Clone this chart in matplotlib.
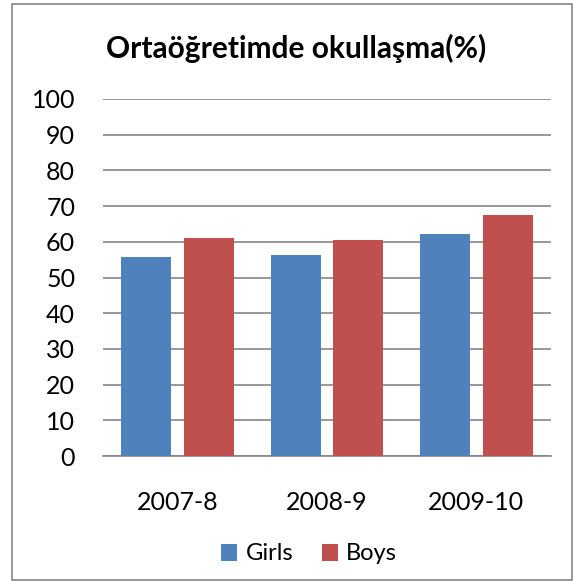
import matplotlib
matplotlib.use("Agg")
import matplotlib.pyplot as plt
import numpy as np
from matplotlib.patches import Rectangle

categories = ["2007-8", "2008-9", "2009-10"]
girls = [55.8, 56.4, 62.2]
boys = [61.1, 60.6, 67.6]
yticks = list(range(0, 101, 10))

plt.rcParams['font.family'] = ['Lato', 'DejaVu Sans']

fig = plt.figure(figsize=(5.78, 5.87), dpi=100)
fig.patches.append(Rectangle((12/578, 1-580/587), 560/578, 576/587, transform=fig.transFigure,
                             fill=False, edgecolor='#868686', linewidth=1.2))
ax = fig.add_axes([103/578, 1-456/587, 448/578, 357/587])
x = np.arange(len(categories))
w = 0.335
ax.bar(x - 0.21, girls, w, color='#4F81BD', label='Girls', zorder=3)
ax.bar(x + 0.21, boys, w, color='#C0504D', label='Boys', zorder=3)
ax.set_xlim(-0.5, 2.5)
ax.set_ylim(0, 100)
ax.set_yticks(yticks)
ax.yaxis.grid(True, color='#868686', linewidth=1.2, zorder=0)
ax.set_xticks(x)
ax.set_xticklabels(categories)
for s in ['top', 'right', 'left']:
    ax.spines[s].set_visible(False)
ax.spines['bottom'].set_color('#868686')
ax.spines['bottom'].set_linewidth(1.2)
ax.tick_params(axis='y', length=0, labelsize=18, pad=20)
ax.tick_params(axis='x', length=0, labelsize=18, pad=25)
fig.text(296/578, 1-48/587, "Ortaöğretimde okullaşma(%)", ha='center', va='center',
         fontsize=21.5, fontweight='bold')
fig.legend(loc='center', bbox_to_anchor=(309/578, 1-554/587), ncol=2, frameon=False,
           fontsize=17, handlelength=0.7, handleheight=0.7, handletextpad=0.35, columnspacing=1.2)
fig.savefig("out.png", dpi=100)
